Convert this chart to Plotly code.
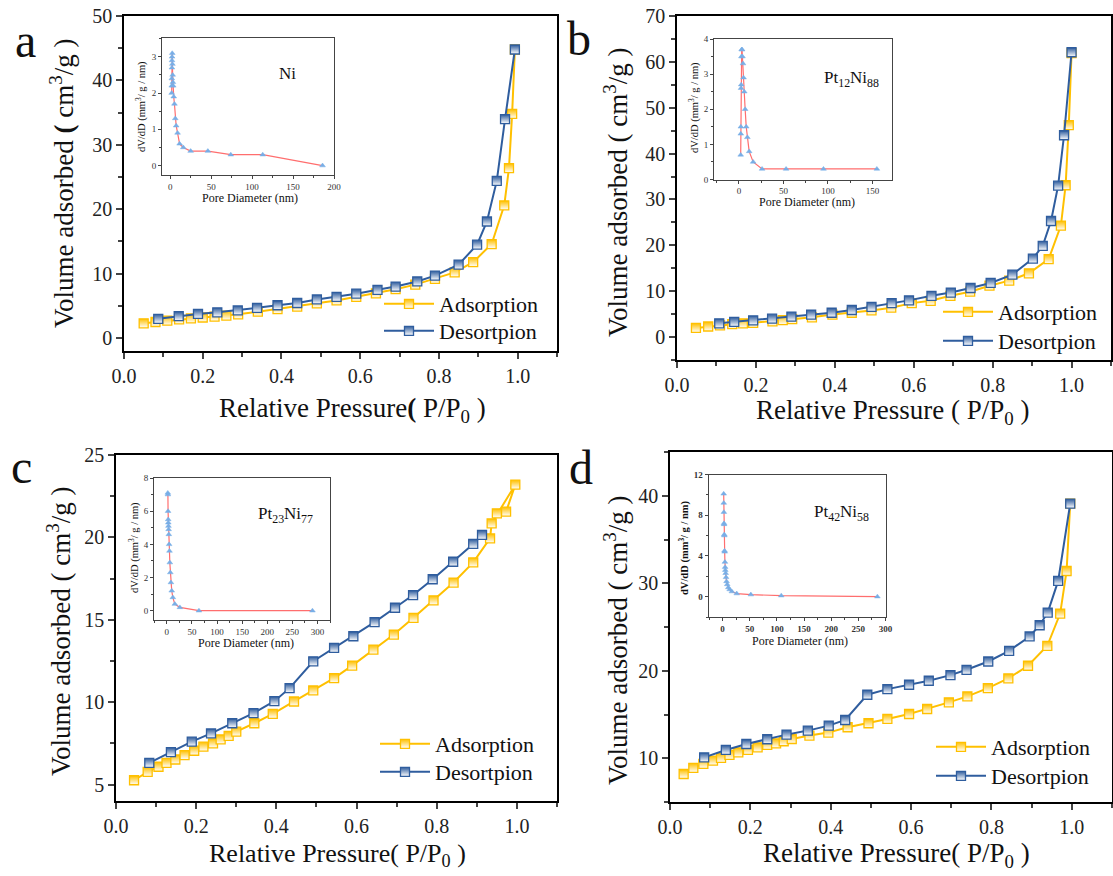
import plotly.graph_objects as go

W, H = 1113, 876

# ---- isotherm data (P/P0, cm3/g) ----
a_ads_p = [0.05, 0.08, 0.11, 0.14, 0.17, 0.20, 0.23, 0.26, 0.29, 0.34, 0.39, 0.44, 0.49,
           0.54, 0.59, 0.64, 0.69, 0.74, 0.79, 0.84, 0.887, 0.934, 0.966, 0.978, 0.986, 0.993]
a_ads_v = [2.3, 2.5, 2.7, 2.9, 3.05, 3.2, 3.35, 3.5, 3.7, 4.1, 4.5, 4.9, 5.4,
           5.85, 6.4, 6.95, 7.6, 8.3, 9.2, 10.2, 11.8, 14.6, 20.6, 26.4, 34.8, 44.8]
a_des_p = [0.087, 0.139, 0.188, 0.237, 0.289, 0.338, 0.39, 0.44, 0.49, 0.54, 0.59,
           0.644, 0.69, 0.745, 0.79, 0.85, 0.897, 0.922, 0.947, 0.968, 0.993]
a_des_v = [3.0, 3.4, 3.75, 4.0, 4.3, 4.7, 5.1, 5.45, 6.0, 6.4, 6.9,
           7.5, 8.0, 8.8, 9.7, 11.4, 14.5, 18.1, 24.4, 34.0, 44.8]

b_ads_p = [0.048, 0.079, 0.109, 0.14, 0.167, 0.193, 0.242, 0.268, 0.292, 0.342, 0.394, 0.443, 0.493,
           0.543, 0.595, 0.643, 0.693, 0.743, 0.792, 0.842, 0.892, 0.942, 0.973, 0.985, 0.993, 1.0]
b_ads_v = [2.0, 2.3, 2.55, 2.8, 3.0, 3.1, 3.4, 3.7, 3.9, 4.3, 4.9, 5.3, 5.8,
           6.4, 7.4, 7.9, 9.0, 9.9, 11.2, 12.3, 13.9, 17.0, 24.3, 33.1, 46.2, 61.9]
b_des_p = [0.107, 0.145, 0.193, 0.241, 0.29, 0.34, 0.392, 0.443, 0.493, 0.544, 0.588,
           0.645, 0.694, 0.744, 0.795, 0.85, 0.902, 0.927, 0.948, 0.966, 0.981, 1.0]
b_des_v = [3.0, 3.3, 3.65, 4.0, 4.45, 4.9, 5.3, 5.9, 6.6, 7.4, 8.0,
           9.0, 9.7, 10.7, 11.8, 13.6, 17.1, 19.9, 25.3, 33.0, 44.0, 62.1]

c_ads_p = [0.045, 0.079, 0.106, 0.126, 0.148, 0.171, 0.195, 0.218, 0.242, 0.261, 0.281, 0.3, 0.345,
           0.391, 0.444, 0.492, 0.544, 0.589, 0.642, 0.693, 0.742, 0.792, 0.842, 0.891, 0.933,
           0.937, 0.996, 0.973, 0.95]
c_ads_v = [5.26, 5.77, 6.08, 6.32, 6.52, 6.79, 7.05, 7.3, 7.5, 7.74, 7.95, 8.21, 8.72,
           9.29, 10.04, 10.71, 11.46, 12.22, 13.19, 14.1, 15.12, 16.18, 17.26, 18.48, 19.94,
           20.85, 23.2, 21.56, 21.46]
c_des_p = [0.083, 0.137, 0.189, 0.237, 0.29, 0.343, 0.395, 0.433, 0.492, 0.544, 0.592,
           0.645, 0.696, 0.741, 0.79, 0.841, 0.891, 0.913]
c_des_v = [6.32, 6.97, 7.6, 8.1, 8.72, 9.33, 10.06, 10.85, 12.48, 13.29, 14.0,
           14.86, 15.73, 16.5, 17.46, 18.52, 19.6, 20.15]

d_ads_p = [0.034, 0.058, 0.083, 0.107, 0.127, 0.148, 0.17, 0.194, 0.218, 0.242, 0.264, 0.283, 0.303,
           0.347, 0.394, 0.442, 0.494, 0.541, 0.595, 0.64, 0.694, 0.74, 0.791, 0.842, 0.891,
           0.939, 0.971, 0.987, 0.996]
d_ads_v = [8.2, 8.9, 9.35, 9.73, 10.04, 10.38, 10.68, 10.95, 11.25, 11.52, 11.71, 11.94, 12.2,
           12.59, 12.93, 13.54, 14.0, 14.49, 15.06, 15.63, 16.39, 17.07, 18.02, 19.13, 20.57,
           22.85, 26.54, 31.4, 39.1]
d_des_p = [0.085, 0.139, 0.19, 0.242, 0.29, 0.343, 0.395, 0.436, 0.491, 0.541, 0.595,
           0.644, 0.698, 0.738, 0.792, 0.844, 0.895, 0.92, 0.94, 0.966, 0.996]
d_des_v = [10.1, 10.95, 11.63, 12.17, 12.7, 13.16, 13.73, 14.37, 17.26, 17.9, 18.4,
           18.86, 19.5, 20.11, 21.06, 22.28, 23.92, 25.2, 26.65, 30.27, 39.1]

# ---- pore size distribution insets (nm, mm3/g/nm) ----
a_pore_d = [1.8, 1.9, 2.0, 2.1, 2.2, 2.3, 2.5, 2.7, 3.0, 3.3, 3.7, 4.3, 5.2, 6.2, 7.3, 9.0,
            11.5, 16, 25, 46, 74, 113, 186]
a_pore_dv = [2.0, 2.2, 2.4, 2.7, 2.9, 3.0, 3.1, 2.8, 2.5, 2.3, 2.2, 1.9, 1.7, 1.3, 1.1, 0.9,
             0.6, 0.5, 0.4, 0.4, 0.3, 0.3, 0.0]
b_pore_d = [2.0, 2.1, 2.2, 2.4, 2.6, 2.8, 3.1, 3.5, 4.0, 4.6, 5.2, 6.0, 7.0, 8.2, 9.5, 11.5,
            16, 26, 53, 95, 155]
b_pore_dv = [0.7, 1.3, 1.5, 2.6, 2.7, 3.5, 3.7, 3.7, 3.5, 3.3, 2.9, 2.5, 2.0, 1.5, 1.2, 0.8,
             0.5, 0.3, 0.3, 0.3, 0.3]
c_pore_d = [2.0, 2.2, 2.5, 2.8, 3.0, 3.3, 3.6, 4.0, 4.6, 5.3, 6.0, 7.0, 8.2, 9.8, 12, 16,
            26, 64, 290]
c_pore_dv = [7.1, 7.0, 6.0, 5.5, 5.3, 5.1, 4.9, 4.6, 4.0, 3.6, 2.9, 2.3, 1.7, 1.2, 0.8, 0.4,
             0.2, 0.0, 0.0]
d_pore_d = [2.0, 2.1, 2.3, 2.5, 2.7, 3.0, 3.2, 3.5, 3.8, 4.2, 4.6, 5.0, 5.6, 6.3, 7.2, 8.5,
            10.5, 13, 17, 26, 52, 108, 285]
d_pore_dv = [10.1, 9.2, 8.3, 7.2, 7.1, 6.1, 6.0, 4.5, 4.4, 3.4, 2.9, 2.6, 2.3, 1.9, 1.5, 1.2,
             0.9, 0.7, 0.5, 0.3, 0.2, 0.1, 0.0]

samples = ["Ni", "Pt<sub>12</sub>Ni<sub>88</sub>", "Pt<sub>23</sub>Ni<sub>77</sub>",
           "Pt<sub>42</sub>Ni<sub>58</sub>"]

FONT = "Liberation Serif, Times New Roman, Times, serif"
YELLOW = "#FFC000"
BLUE = "#2F5D9E"
RED = "#FF6E6E"
LBLUE = "#78AEE6"


def px(x):
    return x / W


def py(y):
    return 1 - y / H


fig = go.Figure()

# main panels: frame in pixels (left, right, top, bottom), y range, y dtick
mains = [
    dict(box=(124, 557, 16, 351), yr=[-2, 50], dt=10, mdt=5,
         ads=(a_ads_p, a_ads_v), des=(a_des_p, a_des_v)),
    dict(box=(677, 1111, 16, 360), yr=[-5, 70], dt=10, mdt=5,
         ads=(b_ads_p, b_ads_v), des=(b_des_p, b_des_v)),
    dict(box=(116, 557, 455, 801), yr=[4, 25], dt=5, mdt=2.5,
         ads=(c_ads_p, c_ads_v), des=(c_des_p, c_des_v)),
    dict(box=(670, 1112, 452, 802), yr=[5, 45], dt=10, mdt=5,
         ads=(d_ads_p, d_ads_v), des=(d_des_p, d_des_v)),
]

# insets: frame in pixels, x range, y range, dticks
insets = [
    dict(box=(162, 334, 38, 175), xr=[-10, 200], yr=[-0.26, 3.52], xdt=50, ydt=1,
         data=(a_pore_d, a_pore_dv), bold=False),
    dict(box=(714, 892, 39, 179.5), xr=[-28, 172], yr=[0, 4], xdt=50, ydt=1,
         data=(b_pore_d, b_pore_dv), bold=False),
    dict(box=(154, 330, 478, 620), xr=[-25.5, 325], yr=[-0.56, 8], xdt=50, ydt=2,
         data=(c_pore_d, c_pore_dv), bold=False),
    dict(box=(708.5, 885.5, 474.5, 617), xr=[-26, 300], yr=[-2, 12], xdt=50, ydt=4,
         data=(d_pore_d, d_pore_dv), bold=True),
]

# legend rows: (left x of line sample, row centre y) for adsorption, desorption
legend_rows = [[(384, 305), (384, 332)], [(943, 313), (943, 342)],
               [(380, 745), (380, 773)], [(936, 748), (936, 777)]]

layout_axes = {}
k = 0
for i, m in enumerate(mains):
    n = i + 1
    sx = "" if n == 1 else str(n)
    l, r, t, b = m["box"]
    common = dict(ticks="outside", ticklen=6, tickwidth=1.5, linewidth=1.5, linecolor="black",
                  mirror=True, showgrid=False, zeroline=False, automargin=False,
                  tickfont=dict(family=FONT, size=20, color="#222"))
    layout_axes["xaxis" + sx] = dict(domain=[px(l), px(r)], range=[0, 1.1], anchor="y" + sx,
                                     dtick=0.2, tick0=0, tickformat=".1f",
                                     minor=dict(dtick=0.1, ticks="outside", ticklen=4, tickwidth=1.5),
                                     **common)
    layout_axes["yaxis" + sx] = dict(domain=[py(b), py(t)], range=m["yr"], anchor="x" + sx,
                                     dtick=m["dt"], tick0=0,
                                     minor=dict(dtick=m["mdt"], ticks="outside", ticklen=4, tickwidth=1.5),
                                     **common)
    series = [("Adsorption", m["ads"], YELLOW), ("Desortpion", m["des"], BLUE)]
    for j, (name, (xs, ys), col) in enumerate(series):
        k += 1
        leg = "legend" if k == 1 else "legend" + str(k)
        fig.add_trace(go.Scatter(
            x=xs, y=ys, name=name, mode="lines+markers", xaxis="x" + sx, yaxis="y" + sx,
            legend=leg,
            line=dict(color=col, width=2),
            marker=dict(symbol="square", size=9, color=col,
                        gradient=dict(type="vertical", color="white"),
                        line=dict(color=col, width=1.3)),
        ))
        lx, ly = legend_rows[i][j]
        layout_axes[leg] = dict(x=px(lx - 5), y=py(ly - 22), xanchor="left", yanchor="top",
                                bgcolor="rgba(0,0,0,0)", itemwidth=50,
                                font=dict(family=FONT, size=22, color="#111"))

for i, s in enumerate(insets):
    n = i + 5
    sx = str(n)
    l, r, t, b = s["box"]
    tf = dict(family=FONT, size=9, color="#333", weight="bold" if s["bold"] else "normal")
    common = dict(ticks="outside", ticklen=3, tickwidth=1, linewidth=1, linecolor="#444",
                  mirror=True, showgrid=False, zeroline=False, automargin=False, tickfont=tf)
    layout_axes["xaxis" + sx] = dict(domain=[px(l), px(r)], range=s["xr"], anchor="y" + sx,
                                     dtick=s["xdt"], tick0=0,
                                     minor=dict(dtick=s["xdt"] / 2, ticks="outside", ticklen=2),
                                     **common)
    layout_axes["yaxis" + sx] = dict(domain=[py(b), py(t)], range=s["yr"], anchor="x" + sx,
                                     dtick=s["ydt"], tick0=0,
                                     minor=dict(dtick=s["ydt"] / 2, ticks="outside", ticklen=2),
                                     **common)
    xs, ys = s["data"]
    fig.add_trace(go.Scatter(
        x=xs, y=ys, mode="lines+markers", xaxis="x" + sx, yaxis="y" + sx, showlegend=False,
        line=dict(color=RED, width=1.2),
        marker=dict(symbol="triangle-up", size=5, color=LBLUE, line=dict(color=LBLUE, width=0.5)),
    ))

ann = []


def text(x, y, s, size, angle=0, **kw):
    ann.append(dict(x=px(x), y=py(y), xref="paper", yref="paper", text=s, showarrow=False,
                    textangle=angle, xanchor="center", yanchor="middle",
                    font=dict(family=FONT, size=size, color="#111"), **kw))


# panel letters
for (x, y), s in zip([(25, 40), (579, 39), (21, 466), (581, 467)], ["a", "b", "c", "d"]):
    text(x, y, s, 48)

# main axis titles
xt = ["Relative Pressure<b>(</b> P/P<sub>0</sub> )", "Relative Pressure ( P/P<sub>0</sub> )",
      "Relative Pressure( P/P<sub>0</sub> )", "Relative Pressure( P/P<sub>0</sub> )"]
yt = ["Volume adsorbed <b>(</b> cm<sup>3</sup>/g )", "Volume adsorbed ( cm<sup>3</sup>/g )",
      "Volume adsorbed ( cm<sup>3</sup>/g )", "Volume adsorbed ( cm<sup>3</sup>/g )"]
for (x, y), s, fs in zip([(352, 410), (892, 412), (337, 855), (896, 855)], xt, [27, 27, 26, 27]):
    text(x, y, s, fs)
for (x, y), s in zip([(62, 184), (616, 193), (59, 632), (616, 641)], yt):
    text(x, y, s, 27, angle=-90)

# inset labels and titles
for (x, y), s in zip([(287, 73), (851, 79), (285, 515), (841, 513)], samples):
    text(x, y, s, 17)
for (x, y) in [(250, 198), (807, 202), (246, 643), (800, 641)]:
    text(x, y, "Pore Diameter (nm)", 12)
for (x, y), bold in zip([(141, 107), (694, 108), (134, 548), (684, 548)], [0, 0, 0, 1]):
    s = "dV/dD (mm<sup>3</sup>/ g / nm)"
    text(x, y, "<b>" + s + "</b>" if bold else s, 10.5, angle=-90)

fig.update_layout(
    width=W, height=H, margin=dict(l=0, r=0, t=0, b=0, autoexpand=False),
    paper_bgcolor="white", plot_bgcolor="white",
    font=dict(family=FONT),
    showlegend=True, annotations=ann,
    **layout_axes,
)

fig.write_html("out.html", config={"displayModeBar": False},
               post_script="document.body.style.margin='0';document.body.style.padding='0';")
